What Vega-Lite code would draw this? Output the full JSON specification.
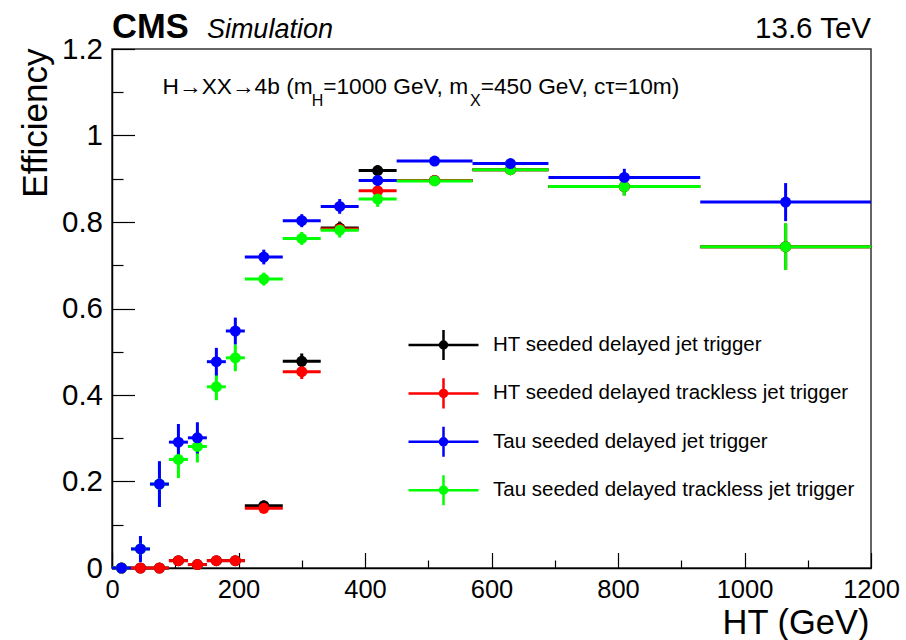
{
  "$schema": "https://vega.github.io/schema/vega-lite/v6.json",
  "width": 759,
  "height": 519,
  "autosize": {"type": "none"},
  "padding": {"left": 112, "top": 49, "right": 35, "bottom": 72},
  "background": "white",
  "config": {"view": {"stroke": "#333333", "strokeWidth": 1.5}, "font": "Liberation Sans"},
  "data": {"values": [
    {"t": "HT seeded delayed jet trigger", "lo": 0, "hi": 30, "x": 15, "eff": 0, "elo": 0, "ehi": 0},
    {"t": "HT seeded delayed jet trigger", "lo": 30, "hi": 60, "x": 45, "eff": 0, "elo": 0, "ehi": 0},
    {"t": "HT seeded delayed jet trigger", "lo": 60, "hi": 90, "x": 75, "eff": 0, "elo": 0, "ehi": 0},
    {"t": "HT seeded delayed jet trigger", "lo": 90, "hi": 120, "x": 105, "eff": 0.017, "elo": 0.009, "ehi": 0.025},
    {"t": "HT seeded delayed jet trigger", "lo": 120, "hi": 150, "x": 135, "eff": 0.008, "elo": 0.003, "ehi": 0.013},
    {"t": "HT seeded delayed jet trigger", "lo": 150, "hi": 180, "x": 165, "eff": 0.017, "elo": 0.009, "ehi": 0.025},
    {"t": "HT seeded delayed jet trigger", "lo": 180, "hi": 210, "x": 195, "eff": 0.017, "elo": 0.009, "ehi": 0.025},
    {"t": "HT seeded delayed jet trigger", "lo": 210, "hi": 270, "x": 240, "eff": 0.144, "elo": 0.132, "ehi": 0.156},
    {"t": "HT seeded delayed jet trigger", "lo": 270, "hi": 330, "x": 300, "eff": 0.478, "elo": 0.46, "ehi": 0.496},
    {"t": "HT seeded delayed jet trigger", "lo": 330, "hi": 390, "x": 360, "eff": 0.786, "elo": 0.771, "ehi": 0.801},
    {"t": "HT seeded delayed jet trigger", "lo": 390, "hi": 450, "x": 420, "eff": 0.919, "elo": 0.907, "ehi": 0.931},
    {"t": "HT seeded delayed jet trigger", "lo": 450, "hi": 570, "x": 510, "eff": 0.896, "elo": 0.887, "ehi": 0.905},
    {"t": "HT seeded delayed jet trigger", "lo": 570, "hi": 690, "x": 630, "eff": 0.921, "elo": 0.909, "ehi": 0.933},
    {"t": "HT seeded delayed jet trigger", "lo": 690, "hi": 930, "x": 810, "eff": 0.882, "elo": 0.862, "ehi": 0.902},
    {"t": "HT seeded delayed jet trigger", "lo": 930, "hi": 1200, "x": 1065, "eff": 0.743, "elo": 0.69, "ehi": 0.796},
    {"t": "HT seeded delayed trackless jet trigger", "lo": 0, "hi": 30, "x": 15, "eff": 0, "elo": 0, "ehi": 0},
    {"t": "HT seeded delayed trackless jet trigger", "lo": 30, "hi": 60, "x": 45, "eff": 0, "elo": 0, "ehi": 0},
    {"t": "HT seeded delayed trackless jet trigger", "lo": 60, "hi": 90, "x": 75, "eff": 0, "elo": 0, "ehi": 0},
    {"t": "HT seeded delayed trackless jet trigger", "lo": 90, "hi": 120, "x": 105, "eff": 0.017, "elo": 0.009, "ehi": 0.025},
    {"t": "HT seeded delayed trackless jet trigger", "lo": 120, "hi": 150, "x": 135, "eff": 0.008, "elo": 0.003, "ehi": 0.013},
    {"t": "HT seeded delayed trackless jet trigger", "lo": 150, "hi": 180, "x": 165, "eff": 0.017, "elo": 0.009, "ehi": 0.025},
    {"t": "HT seeded delayed trackless jet trigger", "lo": 180, "hi": 210, "x": 195, "eff": 0.017, "elo": 0.009, "ehi": 0.025},
    {"t": "HT seeded delayed trackless jet trigger", "lo": 210, "hi": 270, "x": 240, "eff": 0.138, "elo": 0.126, "ehi": 0.15},
    {"t": "HT seeded delayed trackless jet trigger", "lo": 270, "hi": 330, "x": 300, "eff": 0.454, "elo": 0.437, "ehi": 0.471},
    {"t": "HT seeded delayed trackless jet trigger", "lo": 330, "hi": 390, "x": 360, "eff": 0.784, "elo": 0.769, "ehi": 0.799},
    {"t": "HT seeded delayed trackless jet trigger", "lo": 390, "hi": 450, "x": 420, "eff": 0.872, "elo": 0.86, "ehi": 0.884},
    {"t": "HT seeded delayed trackless jet trigger", "lo": 450, "hi": 570, "x": 510, "eff": 0.896, "elo": 0.887, "ehi": 0.905},
    {"t": "HT seeded delayed trackless jet trigger", "lo": 570, "hi": 690, "x": 630, "eff": 0.921, "elo": 0.909, "ehi": 0.933},
    {"t": "HT seeded delayed trackless jet trigger", "lo": 690, "hi": 930, "x": 810, "eff": 0.882, "elo": 0.862, "ehi": 0.902},
    {"t": "HT seeded delayed trackless jet trigger", "lo": 930, "hi": 1200, "x": 1065, "eff": 0.743, "elo": 0.69, "ehi": 0.796},
    {"t": "Tau seeded delayed trackless jet trigger", "lo": 0, "hi": 30, "x": 15, "eff": 0, "elo": 0, "ehi": 0},
    {"t": "Tau seeded delayed trackless jet trigger", "lo": 30, "hi": 60, "x": 45, "eff": 0.044, "elo": 0.014, "ehi": 0.074},
    {"t": "Tau seeded delayed trackless jet trigger", "lo": 60, "hi": 90, "x": 75, "eff": 0.194, "elo": 0.144, "ehi": 0.244},
    {"t": "Tau seeded delayed trackless jet trigger", "lo": 90, "hi": 120, "x": 105, "eff": 0.251, "elo": 0.208, "ehi": 0.294},
    {"t": "Tau seeded delayed trackless jet trigger", "lo": 120, "hi": 150, "x": 135, "eff": 0.281, "elo": 0.244, "ehi": 0.318},
    {"t": "Tau seeded delayed trackless jet trigger", "lo": 150, "hi": 180, "x": 165, "eff": 0.419, "elo": 0.388, "ehi": 0.45},
    {"t": "Tau seeded delayed trackless jet trigger", "lo": 180, "hi": 210, "x": 195, "eff": 0.486, "elo": 0.455, "ehi": 0.517},
    {"t": "Tau seeded delayed trackless jet trigger", "lo": 210, "hi": 270, "x": 240, "eff": 0.668, "elo": 0.653, "ehi": 0.683},
    {"t": "Tau seeded delayed trackless jet trigger", "lo": 270, "hi": 330, "x": 300, "eff": 0.762, "elo": 0.747, "ehi": 0.777},
    {"t": "Tau seeded delayed trackless jet trigger", "lo": 330, "hi": 390, "x": 360, "eff": 0.781, "elo": 0.764, "ehi": 0.798},
    {"t": "Tau seeded delayed trackless jet trigger", "lo": 390, "hi": 450, "x": 420, "eff": 0.853, "elo": 0.835, "ehi": 0.871},
    {"t": "Tau seeded delayed trackless jet trigger", "lo": 450, "hi": 570, "x": 510, "eff": 0.895, "elo": 0.885, "ehi": 0.905},
    {"t": "Tau seeded delayed trackless jet trigger", "lo": 570, "hi": 690, "x": 630, "eff": 0.921, "elo": 0.909, "ehi": 0.933},
    {"t": "Tau seeded delayed trackless jet trigger", "lo": 690, "hi": 930, "x": 810, "eff": 0.882, "elo": 0.861, "ehi": 0.903},
    {"t": "Tau seeded delayed trackless jet trigger", "lo": 930, "hi": 1200, "x": 1065, "eff": 0.743, "elo": 0.689, "ehi": 0.797},
    {"t": "Tau seeded delayed jet trigger", "lo": 0, "hi": 30, "x": 15, "eff": 0, "elo": 0, "ehi": 0},
    {"t": "Tau seeded delayed jet trigger", "lo": 30, "hi": 60, "x": 45, "eff": 0.044, "elo": 0.014, "ehi": 0.074},
    {"t": "Tau seeded delayed jet trigger", "lo": 60, "hi": 90, "x": 75, "eff": 0.194, "elo": 0.141, "ehi": 0.247},
    {"t": "Tau seeded delayed jet trigger", "lo": 90, "hi": 120, "x": 105, "eff": 0.291, "elo": 0.249, "ehi": 0.333},
    {"t": "Tau seeded delayed jet trigger", "lo": 120, "hi": 150, "x": 135, "eff": 0.301, "elo": 0.265, "ehi": 0.337},
    {"t": "Tau seeded delayed jet trigger", "lo": 150, "hi": 180, "x": 165, "eff": 0.477, "elo": 0.445, "ehi": 0.509},
    {"t": "Tau seeded delayed jet trigger", "lo": 180, "hi": 210, "x": 195, "eff": 0.548, "elo": 0.517, "ehi": 0.579},
    {"t": "Tau seeded delayed jet trigger", "lo": 210, "hi": 270, "x": 240, "eff": 0.719, "elo": 0.702, "ehi": 0.736},
    {"t": "Tau seeded delayed jet trigger", "lo": 270, "hi": 330, "x": 300, "eff": 0.803, "elo": 0.788, "ehi": 0.818},
    {"t": "Tau seeded delayed jet trigger", "lo": 330, "hi": 390, "x": 360, "eff": 0.836, "elo": 0.819, "ehi": 0.853},
    {"t": "Tau seeded delayed jet trigger", "lo": 390, "hi": 450, "x": 420, "eff": 0.896, "elo": 0.884, "ehi": 0.908},
    {"t": "Tau seeded delayed jet trigger", "lo": 450, "hi": 570, "x": 510, "eff": 0.941, "elo": 0.933, "ehi": 0.949},
    {"t": "Tau seeded delayed jet trigger", "lo": 570, "hi": 690, "x": 630, "eff": 0.935, "elo": 0.925, "ehi": 0.945},
    {"t": "Tau seeded delayed jet trigger", "lo": 690, "hi": 930, "x": 810, "eff": 0.903, "elo": 0.883, "ehi": 0.923},
    {"t": "Tau seeded delayed jet trigger", "lo": 930, "hi": 1200, "x": 1065, "eff": 0.846, "elo": 0.802, "ehi": 0.89}
  ]},
  "layer": [
    {
      "mark": {"type": "rule", "strokeWidth": 3},
      "encoding": {
        "x": {"field": "lo", "type": "quantitative", "scale": {"domain": [0, 1200], "nice": false, "zero": false},
          "axis": {"title": "HT (GeV)", "grid": false, "domainColor": "#000000", "domainWidth": 1.5,
            "values": [0,50,100,150,200,250,300,350,400,450,500,550,600,650,700,750,800,850,900,950,1000,1050,1100,1150,1200],
            "labelExpr": "datum.value % 200 === 0 ? format(datum.value, 'd') : ''",
            "tickSize": {"condition": {"test": "datum.value % 200 === 0", "value": -15.5}, "value": -8},
            "tickColor": "#000000", "tickWidth": 1.2,
            "labelPadding": 24.5, "labelFont": "Liberation Sans", "labelFontSize": 25.5, "labelColor": "#000000",
            "labelOverlap": false, "labelFlush": false, "labelBound": false,
            "titleFont": "Liberation Sans", "titleFontSize": 34.5, "titleFontWeight": "normal", "titleColor": "#000000",
            "titleAnchor": "end", "titleAlign": "right", "titleBaseline": "alphabetic", "titleX": 757, "titleY": 65}},
        "x2": {"field": "hi"},
        "y": {"field": "eff", "type": "quantitative", "scale": {"domain": [0, 1.2], "nice": false, "zero": false},
          "axis": {"title": "Efficiency", "grid": false, "domainColor": "#000000", "domainWidth": 1.5,
            "values": [0,0.05,0.1,0.15,0.2,0.25,0.3,0.35,0.4,0.45,0.5,0.55,0.6,0.65,0.7,0.75,0.8,0.85,0.9,0.95,1,1.05,1.1,1.15,1.2],
            "labelExpr": "abs(datum.value*5 - round(datum.value*5)) < 0.001 ? format(datum.value, '.1~f') : ''",
            "tickSize": {"condition": {"test": "abs(datum.value*5 - round(datum.value*5)) < 0.001", "value": -22.5}, "value": -11},
            "tickColor": "#000000", "tickWidth": 1.2,
            "labelPadding": 32, "labelFont": "Liberation Sans", "labelFontSize": 29.5, "labelColor": "#000000",
            "labelOverlap": false, "labelFlush": false, "labelBound": false,
            "titleFont": "Liberation Sans", "titleFontSize": 35, "titleFontWeight": "normal", "titleColor": "#000000",
            "titleAnchor": "end", "titleAngle": 270, "titleAlign": "right", "titleBaseline": "alphabetic", "titleX": -66, "titleY": -1}},
        "color": {"field": "t", "type": "nominal",
          "scale": {"domain": ["HT seeded delayed jet trigger", "HT seeded delayed trackless jet trigger", "Tau seeded delayed jet trigger", "Tau seeded delayed trackless jet trigger"], "range": ["#000000", "#ff0000", "#0000ff", "#00ff00"]},
          "legend": {"title": null, "orient": "none", "legendX": 295, "legendY": 279, "padding": 0,
            "symbolType": "M-1,0H1M0,-0.43V0.43M0.1,0A0.1,0.1,0,1,1,-0.1,0A0.1,0.1,0,1,1,0.1,0Z",
            "symbolSize": 4900, "symbolStrokeWidth": 2.5, "symbolOffset": 0, "clipHeight": 34, "rowPadding": 14.4,
            "labelOffset": 13, "labelFont": "Liberation Sans", "labelFontSize": 20.5, "labelColor": "#000000", "labelLimit": 0,
            "encode": {"symbols": {"update": {"stroke": {"scale": "color", "field": "value"}, "fill": {"scale": "color", "field": "value"}, "strokeWidth": {"value": 2.5}, "opacity": {"value": 1}, "size": {"value": 4900}}}}}}
      }
    },
    {
      "mark": {"type": "rule", "strokeWidth": 3},
      "encoding": {
        "x": {"field": "x", "type": "quantitative", "axis": {"title": "HT (GeV)"}},
        "y": {"field": "elo", "type": "quantitative", "axis": {"title": "Efficiency"}},
        "y2": {"field": "ehi"},
        "color": {"field": "t", "type": "nominal"}
      }
    },
    {
      "mark": {"type": "point", "filled": true, "shape": "circle", "size": 121, "opacity": 1},
      "encoding": {
        "x": {"field": "x", "type": "quantitative", "axis": {"title": "HT (GeV)"}},
        "y": {"field": "eff", "type": "quantitative", "axis": {"title": "Efficiency"}},
        "color": {"field": "t", "type": "nominal"}
      }
    },
    {
      "data": {"values": [{}]},
      "mark": {"type": "text", "text": "CMS", "font": "Liberation Sans", "fontWeight": "bold", "fontSize": 34.5, "align": "left", "baseline": "alphabetic", "color": "#000000"},
      "encoding": {"x": {"datum": 0, "type": "quantitative"}, "y": {"datum": 1.2244, "type": "quantitative"}}
    },
    {
      "data": {"values": [{}]},
      "mark": {"type": "text", "text": "Simulation", "font": "Liberation Sans", "fontStyle": "italic", "fontSize": 27, "align": "left", "baseline": "alphabetic", "color": "#000000"},
      "encoding": {"x": {"datum": 150, "type": "quantitative"}, "y": {"datum": 1.2244, "type": "quantitative"}}
    },
    {
      "data": {"values": [{}]},
      "mark": {"type": "text", "text": "13.6 TeV", "font": "Liberation Sans", "fontSize": 29.5, "align": "right", "baseline": "alphabetic", "color": "#000000"},
      "encoding": {"x": {"datum": 1200, "type": "quantitative"}, "y": {"datum": 1.2244, "type": "quantitative"}}
    },
    {
      "data": {"values": [{}]},
      "mark": {"type": "text", "text": "H→XX→4b (m", "font": "Liberation Sans", "fontSize": 22.7, "align": "left", "baseline": "alphabetic", "color": "#000000"},
      "encoding": {"x": {"datum": 80, "type": "quantitative"}, "y": {"datum": 1.0949, "type": "quantitative"}}
    },
    {
      "data": {"values": [{}]},
      "mark": {"type": "text", "text": "H", "font": "Liberation Sans", "fontSize": 16, "align": "left", "baseline": "alphabetic", "color": "#000000"},
      "encoding": {"x": {"datum": 316, "type": "quantitative"}, "y": {"datum": 1.0672, "type": "quantitative"}}
    },
    {
      "data": {"values": [{}]},
      "mark": {"type": "text", "text": "=1000 GeV, m", "font": "Liberation Sans", "fontSize": 22.7, "align": "left", "baseline": "alphabetic", "color": "#000000"},
      "encoding": {"x": {"datum": 334, "type": "quantitative"}, "y": {"datum": 1.0949, "type": "quantitative"}}
    },
    {
      "data": {"values": [{}]},
      "mark": {"type": "text", "text": "X", "font": "Liberation Sans", "fontSize": 16, "align": "left", "baseline": "alphabetic", "color": "#000000"},
      "encoding": {"x": {"datum": 566, "type": "quantitative"}, "y": {"datum": 1.0672, "type": "quantitative"}}
    },
    {
      "data": {"values": [{}]},
      "mark": {"type": "text", "text": "=450 GeV, cτ=10m)", "font": "Liberation Sans", "fontSize": 22.7, "align": "left", "baseline": "alphabetic", "color": "#000000"},
      "encoding": {"x": {"datum": 583, "type": "quantitative"}, "y": {"datum": 1.0949, "type": "quantitative"}}
    }
  ]
}
